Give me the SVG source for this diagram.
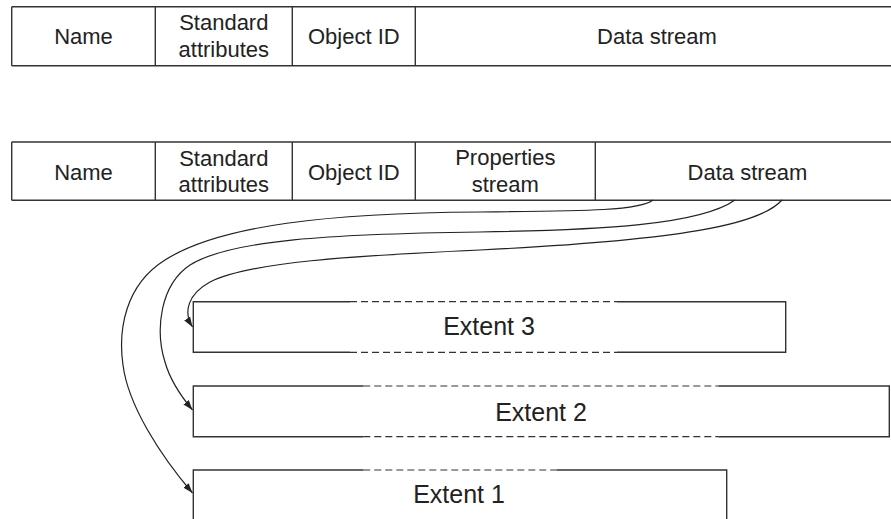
<svg xmlns="http://www.w3.org/2000/svg" width="891" height="519" viewBox="0 0 891 519">
  <style>
    .ln { stroke: #333; stroke-width: 1.4; fill: none; }
    .dash { stroke: #333; stroke-width: 1.2; fill: none; stroke-dasharray: 7 4; }
    .conn { stroke: #222; stroke-width: 1.2; fill: none; marker-end: url(#arr); }
    .t { font-family: "Liberation Sans", Arial, sans-serif; font-size: 22px; fill: #222; text-anchor: middle; }
    .e { font-family: "Liberation Sans", Arial, sans-serif; font-size: 25px; fill: #222; text-anchor: middle; }
  </style>
  <defs>
    <marker id="arr" markerUnits="userSpaceOnUse" markerWidth="10" markerHeight="7" refX="10" refY="3.5" orient="auto">
      <path d="M0,0 L10,3.5 L0,7 z" fill="#222"/>
    </marker>
  </defs>
  <rect width="891" height="519" fill="#fff"/>

  <g id="record1">
    <path class="ln" d="M11.7,6.7 H895 M11.7,65.7 H895 M11.7,6.7 V65.7 M155.3,6.7 V65.7 M292.3,6.7 V65.7 M415.3,6.7 V65.7"/>
    <g id="r1-name"><text class="t" x="83.5" y="44">Name</text></g>
    <g id="r1-std"><text class="t" x="223.8" y="30">Standard</text><text class="t" x="223.8" y="56.5">attributes</text></g>
    <g id="r1-oid"><text class="t" x="353.8" y="44">Object ID</text></g>
    <g id="r1-data"><text class="t" x="657" y="44">Data stream</text></g>
  </g>

  <g id="record2">
    <path class="ln" d="M11.7,142 H895 M11.7,200.3 H895 M11.7,142 V200.3 M155.3,142 V200.3 M292.3,142 V200.3 M415.3,142 V200.3 M595.3,142 V200.3"/>
    <g id="r2-name"><text class="t" x="83.5" y="179.5">Name</text></g>
    <g id="r2-std"><text class="t" x="223.8" y="165.5">Standard</text><text class="t" x="223.8" y="192">attributes</text></g>
    <g id="r2-oid"><text class="t" x="353.8" y="179.5">Object ID</text></g>
    <g id="r2-prop"><text class="t" x="505.3" y="165">Properties</text><text class="t" x="505.3" y="191.5">stream</text></g>
    <g id="r2-data"><text class="t" x="747.5" y="179.5">Data stream</text></g>
  </g>

  <g id="extent3">
    <path class="ln" d="M350,301.7 H193.3 V352.3 H350 M617,301.7 H785.7 V352.3 H617"/>
    <path class="dash" d="M350,301.7 H617 M350,352.3 H617"/>
    <text class="e" x="489" y="335">Extent 3</text>
  </g>

  <g id="extent2">
    <path class="ln" d="M363.3,386 H193.3 V436.7 H363.3 M718.3,386 H889.3 V436.7 H718.3"/>
    <path class="dash" d="M363.3,386 H718.3 M363.3,436.7 H718.3"/>
    <text class="e" x="541" y="420.7">Extent 2</text>
  </g>

  <g id="extent1">
    <path class="ln" d="M363.3,470 H193.3 V522 M556.7,470 H726.7 V522"/>
    <path class="dash" d="M363.3,470 H556.7"/>
    <text class="e" x="459" y="503.3">Extent 1</text>
  </g>

  <g id="connectors">
    <path class="conn" d="M653,200 C640,211 580,211 480,212 C330,213 220,225 165,260 C125,285 118,330 123,365 C128,405 160,455 192.5,493"/>
    <path class="conn" d="M735,200 C700,225 600,230 480,232 C330,234 230,240 190,265 C160,285 155,330 165,362 C170,380 180,395 192.5,410"/>
    <path class="conn" d="M782,200 C760,225 680,240 480,250 C350,256 250,262 210,282 C188,294 183,312 192.5,327"/>
  </g>
</svg>
